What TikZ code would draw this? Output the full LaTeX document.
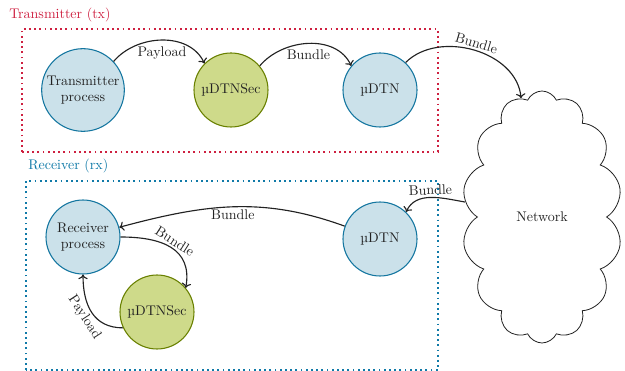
\documentclass[tikz,border=0pt]{standalone}
\usepackage{fontspec}
\usetikzlibrary{shapes.symbols,arrows.meta}
\definecolor{txred}{RGB}{206,32,64}
\definecolor{rxblue}{RGB}{16,122,168}
\definecolor{procfill}{RGB}{203,225,234}
\definecolor{procdraw}{RGB}{20,118,160}
\definecolor{secfill}{RGB}{206,218,138}
\definecolor{secdraw}{RGB}{105,128,0}
\definecolor{ink}{RGB}{34,34,34}
\begin{document}
\begin{tikzpicture}[x=0.75pt,y=0.75pt,
  font=\fontsize{10.5}{12.5}\selectfont, text=ink,
  proc/.style={circle, draw=procdraw, fill=procfill, line width=0.8pt, inner sep=0pt, align=center, minimum size=55.5pt},
  sec/.style={circle, draw=secdraw, fill=secfill, line width=0.8pt, inner sep=0pt, align=center, minimum size=55.5pt},
  conn/.style={-{To[length=3.5pt,width=7pt]}, line width=0.85pt, draw=ink},
  elabel/.style={inner sep=1.5pt, font=\fontsize{10.5}{12.5}\selectfont},
  groupbox/.style={line width=1.3pt, dash pattern=on 1.3pt off 2.6pt},
  grouplabel/.style={anchor=west, inner sep=0pt, font=\fontsize{10.5}{12.5}\selectfont}
]
\useasboundingbox (0,0) rectangle (625,371);

% group boxes
\draw[groupbox, draw=txred] (22,219) rectangle (438,342);
\node[grouplabel, text=txred] (txlabel) at (9,356) {Transmitter (tx)};
\draw[groupbox, draw=rxblue] (26,1) rectangle (438,190);
\node[grouplabel, text=rxblue] (rxlabel) at (28,205) {Receiver (rx)};

% transmitter nodes
\node[proc, minimum size=62pt] (tp) at (83,281) {Transmitter\\process};
\node[sec] (tsec) at (231,281) {µDTNSec};
\node[proc] (tdtn) at (380,281) {µDTN};

% receiver nodes
\node[proc] (rp) at (83,134) {Receiver\\process};
\node[sec] (rsec) at (157,59) {µDTNSec};
\node[proc] (rdtn) at (380,132) {µDTN};

% network
\node[cloud, draw=ink, line width=0.6pt, cloud puffs=14, cloud puff arc=130,
      cloud ignores aspect, minimum width=120pt, minimum height=189pt,
      inner sep=0pt] (net) at (542,154) {Network};

% connectors
\draw[conn] (tp.43) to[out=50,in=115] node[elabel, below, yshift=-3pt] {Payload} (tsec.135);
\draw[conn] (tsec.40) to[out=50,in=115] node[elabel, below, yshift=-3pt] {Bundle} (tdtn.140);
\draw[conn] (tdtn.47) to[out=45,in=95] node[elabel, above, sloped] {Bundle} (net.100);
\draw[conn] (net.169) to[out=170,in=65] node[elabel, above, sloped] {Bundle} (rdtn.46);
\draw[conn] (rdtn.160) to[out=160,in=15] node[elabel, below] {Bundle} (rp.15);
\draw[conn] (rp.0) to[out=0,in=80,looseness=1.25] node[elabel, above, sloped] {Bundle} (rsec.40);
\draw[conn] (rsec.205) to[out=180,in=-90,looseness=1.15] node[elabel, below, sloped] {Payload} (rp.270);
\end{tikzpicture}
\end{document}
